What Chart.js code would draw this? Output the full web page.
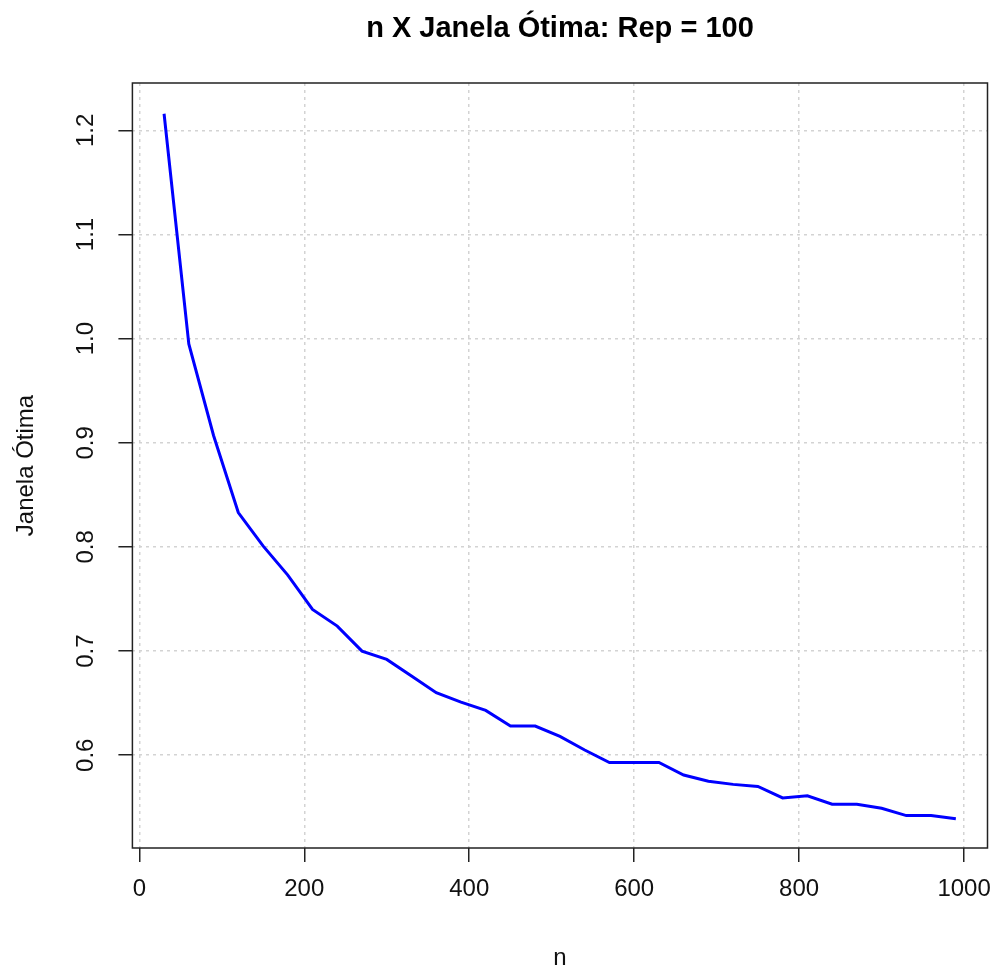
<!DOCTYPE html>
<html>
<head>
<meta charset="utf-8">
<script src="https://cdn.jsdelivr.net/npm/chart.js@4"></script>
<style>
  html, body { margin: 0; padding: 0; background: #ffffff; }
  #wrap { width: 996px; height: 971px; }
</style>
</head>
<body>
<div id="wrap"><canvas id="c" width="996" height="971"></canvas></div>
<script>
// Sample sizes and the optimal bandwidth found for each (100 replications)
const nValues = [30, 60, 90, 120, 150, 180, 210, 240, 270, 300, 330, 360, 390, 420, 450,
                 480, 510, 540, 570, 600, 630, 660, 690, 720, 750, 780, 810, 840, 870, 900,
                 930, 960, 990];
const janelaOtima = [1.216, 0.995, 0.907, 0.833, 0.801, 0.773, 0.740, 0.724, 0.700, 0.692,
                     0.676, 0.660, 0.651, 0.643, 0.628, 0.628, 0.618, 0.605, 0.593, 0.593,
                     0.593, 0.581, 0.575, 0.572, 0.570, 0.559, 0.561, 0.553, 0.553, 0.549,
                     0.542, 0.542, 0.539];
const xTicks = [0, 200, 400, 600, 800, 1000];
const yTicks = [0.6, 0.7, 0.8, 0.9, 1.0, 1.1, 1.2];

const FONT = "'Liberation Sans', Arial, sans-serif";

// Axis limits padded by 4% of the data range on each side
const xPad = (Math.max(...nValues) - Math.min(...nValues)) * 0.04;
const xMin = Math.min(...nValues) - xPad;
const xMax = Math.max(...nValues) + xPad;
const yMin = 0.5109;
const yMax = 1.2455;

// Frame drawn around the plotting region
const frame = {
  id: 'frame',
  afterDraw(chart) {
    const { ctx, chartArea: a } = chart;
    ctx.save();
    ctx.strokeStyle = '#222';
    ctx.lineWidth = 1.5;
    ctx.strokeRect(a.left, a.top, a.right - a.left, a.bottom - a.top);
    ctx.restore();
  }
};

const gridStyle = {
  color: '#d3d3d3',
  lineWidth: 1.5,
  drawTicks: true,
  tickLength: 14,
  tickColor: '#222',
  tickWidth: 1.5
};

new Chart(document.getElementById('c'), {
  type: 'line',
  data: {
    datasets: [{
      data: nValues.map((n, i) => ({ x: n, y: janelaOtima[i] })),
      borderColor: '#0000ff',
      borderWidth: 3,
      pointRadius: 0,
      tension: 0,
      fill: false
    }]
  },
  options: {
    responsive: false,
    animation: false,
    devicePixelRatio: 1,
    layout: { padding: { left: 0, right: 8.5, top: 0, bottom: 0 } },
    plugins: {
      legend: { display: false },
      tooltip: { enabled: false },
      title: {
        display: true,
        text: 'n X Janela Ótima: Rep = 100',
        fullSize: false,
        color: '#000',
        font: { family: FONT, size: 29, weight: 'bold' },
        padding: { top: 11.5, bottom: 36.7 }
      }
    },
    scales: {
      x: {
        type: 'linear',
        min: xMin,
        max: xMax,
        afterBuildTicks: s => { s.ticks = xTicks.map(v => ({ value: v })); },
        afterFit: s => {
          s.height = 123;
          // keep the plotting region fixed; end labels may overhang it
          s.paddingLeft = 0;
          s.paddingRight = 0;
        },
        grid: gridStyle,
        border: { display: false, dash: [3, 4] },
        ticks: {
          color: '#111',
          font: { family: FONT, size: 24 },
          padding: 13,
          maxRotation: 0,
          autoSkip: false,
          callback: v => String(v)
        },
        title: {
          display: true,
          text: 'n',
          color: '#111',
          font: { family: FONT, size: 24 },
          padding: { top: 0, bottom: -2 }
        }
      },
      y: {
        type: 'linear',
        min: yMin,
        max: yMax,
        afterBuildTicks: s => { s.ticks = yTicks.map(v => ({ value: v })); },
        afterFit: s => {
          s.width = 132.4;
          s.paddingTop = 0;
          s.paddingBottom = 0;
        },
        grid: gridStyle,
        border: { display: false, dash: [3, 4] },
        ticks: {
          color: '#111',
          font: { family: FONT, size: 24 },
          minRotation: 90,
          maxRotation: 90,
          crossAlign: 'center',
          padding: 15,
          autoSkip: false,
          callback: v => v.toFixed(1)
        },
        title: {
          display: true,
          text: 'Janela Ótima',
          color: '#111',
          font: { family: FONT, size: 24 },
          padding: { top: 12, bottom: 0 }
        }
      }
    }
  },
  plugins: [frame]
});
</script>
</body>
</html>
